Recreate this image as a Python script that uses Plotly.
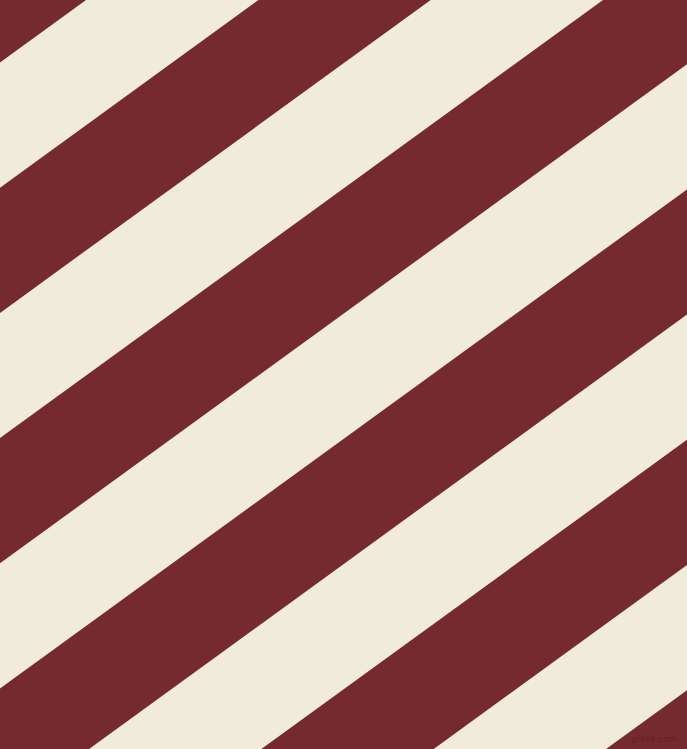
import numpy as np
import plotly.graph_objects as go

RED_TOP = [-62.7, 187.7, 438.1, 688.5, 938.9, 1189.3]   # upper edge of each red band
RED_BOTTOM = [62.5, 312.9, 563.3, 813.7, 1064.1, 1314.5]  # lower edge of each red band
SLOPE = 0.7265  # tan(36 deg), y drops as x grows

RED = '#752A30'
CREAM = '#F0EBDA'
W, H = 687, 749

fig = go.Figure()

x_left, x_right = -20, W + 20
for top, bottom in zip(RED_TOP, RED_BOTTOM):
    xs = [x_left, x_right, x_right, x_left, x_left]
    ys = [top - SLOPE * x_left, top - SLOPE * x_right,
          bottom - SLOPE * x_right, bottom - SLOPE * x_left,
          top - SLOPE * x_left]
    fig.add_trace(go.Scatter(
        x=xs, y=ys, mode='lines', fill='toself',
        fillcolor=RED, line=dict(width=0, color=RED),
        hoverinfo='skip', showlegend=False
    ))

# small site watermark, bottom right
fig.add_annotation(
    x=W - 8, y=H - 3, xref='x', yref='y',
    text='pixlis.com', showarrow=False,
    xanchor='right', yanchor='bottom',
    font=dict(family='DejaVu Sans', size=9, color='#5E1F25')
)

fig.update_layout(
    width=W, height=H,
    margin=dict(l=0, r=0, t=0, b=0),
    paper_bgcolor=CREAM, plot_bgcolor=CREAM,
    xaxis=dict(range=[0, W], visible=False, fixedrange=True),
    yaxis=dict(range=[H, 0], visible=False, fixedrange=True),
)

fig.write_html("out.html", config={'displayModeBar': False},
               post_script="document.body.style.margin='0';document.body.style.overflow='hidden';")
